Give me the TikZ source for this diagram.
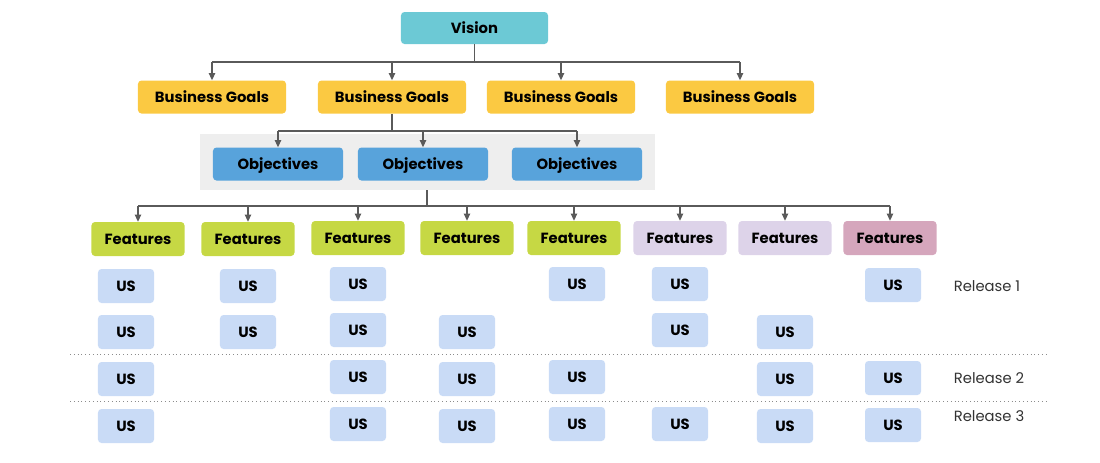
\documentclass[tikz,border=0pt]{standalone}
\usepackage{fontspec}
\setmainfont{Poppins}
\usetikzlibrary{arrows.meta}
\definecolor{visioncol}{HTML}{6CC9D5}
\definecolor{goalcol}{HTML}{FBC942}
\definecolor{objcol}{HTML}{58A3DB}
\definecolor{objbgcol}{HTML}{EEEEEE}
\definecolor{featcol}{HTML}{C6D844}
\definecolor{lavcol}{HTML}{DDD3E9}
\definecolor{pinkcol}{HTML}{D5A6BC}
\definecolor{uscol}{HTML}{C9DBF6}
\definecolor{linecol}{HTML}{5A5A5A}
\tikzset{
  box/.style={rounded corners=2.5pt, inner sep=0pt, text height=0.72em, text depth=0pt,
    font=\fontsize{10.5}{12}\selectfont\bfseries},
  visionbox/.style={box, fill=visioncol, minimum width=3.675cm, minimum height=0.8cm},
  goalbox/.style={box, fill=goalcol, minimum width=3.7cm, minimum height=0.825cm},
  objbox/.style={box, fill=objcol, minimum width=3.25cm, minimum height=0.825cm},
  featbox/.style={box, fill=featcol, minimum width=2.325cm, minimum height=0.85cm},
  usbox/.style={box, fill=uscol, minimum width=1.4cm, minimum height=0.85cm},
  link/.style={draw=linecol, line width=0.9pt},
  arr/.style={link, -{Triangle[width=4.5pt,length=5pt]}},
  release/.style={font=\fontsize{10.5}{12}\selectfont, text=black!80}
}
\begin{document}
\begin{tikzpicture}[x=0.025cm, y=-0.025cm]
\useasboundingbox (0,0) rectangle (1100,462);

% top of the tree
\node[visionbox] (vision) at (474.5,28) {Vision};
\node[goalbox] (bg1) at (212,97) {Business Goals};
\node[goalbox] (bg2) at (392,97) {Business Goals};
\node[goalbox] (bg3) at (561,97) {Business Goals};
\node[goalbox] (bg4) at (740,97) {Business Goals};

\coordinate (vj) at (474.5,62);
\draw[link] (vision.south) -- (vj);
\draw[link] (vj -| bg1.north) -- (vj -| bg4.north);
\foreach \g in {bg1,bg2,bg3,bg4}
  \draw[arr] (vj -| \g.north) -- (\g.north);

% objectives on a grey band
\node[fill=objbgcol, minimum width=11.375cm, minimum height=1.4cm, inner sep=0pt] (objbg) at (427.5,162) {};
\node[objbox] (ob1) at (278,164) {Objectives};
\node[objbox] (ob2) at (423,164) {Objectives};
\node[objbox] (ob3) at (577,164) {Objectives};

\coordinate (gj) at (392,131);
\draw[link] (bg2.south) -- (gj);
\draw[link] (gj -| ob1.north) -- (gj -| ob3.north);
\foreach \o in {ob1,ob2,ob3}
  \draw[arr] (gj -| \o.north) -- (\o.north);

% features
\node[featbox] (f1) at (138,239) {Features};
\node[featbox] (f2) at (248,239) {Features};
\node[featbox] (f3) at (358,238) {Features};
\node[featbox] (f4) at (467,238) {Features};
\node[featbox] (f5) at (574,238) {Features};
\node[featbox, fill=lavcol] (f6) at (680,238) {Features};
\node[featbox, fill=lavcol] (f7) at (785,238) {Features};
\node[featbox, fill=pinkcol] (f8) at (890,238) {Features};

\coordinate (oj) at (427,206);
\draw[link] (objbg.south -| oj) -- (oj);
\draw[link] (oj -| f1.north) -- (oj -| f8.north);
\foreach \f in {f1,f2,f3,f4,f5,f6,f7,f8}
  \draw[arr] (oj -| \f.north) -- (\f.north);

% user stories (column x / row y)
\foreach \n/\x/\y in {a1/126/286, a2/126/332, a3/126/379, a4/126/426,
                      b1/248/286, b2/248/332,
                      c1/358/284, c2/358/330, c3/358/377, c4/358/424,
                      d2/467/332, d3/467/379, d4/467/426,
                      e1/577/284, e3/577/377, e4/577/424,
                      g1/680/284, g2/680/330, g4/680/424,
                      h2/785/332, h3/785/379, h4/785/426,
                      k1/893/285, k3/893/378, k4/893/425}
  \node[usbox] (us-\n) at (\x,\y) {US};

% release separators
\coordinate (s1l) at (70,354);
\coordinate (s1r) at (1046,354);
\coordinate (s2l) at (70,401);
\coordinate (s2r) at (1046,401);
\draw[black!45, line width=0.7pt, dotted] (s1l) -- (s1r);
\draw[black!45, line width=0.7pt, dotted] (s2l) -- (s2r);

\node[release] (r1) at (987,286) {Release 1};
\node[release] (r2) at (989,378) {Release 2};
\node[release] (r3) at (989,416) {Release 3};
\end{tikzpicture}
\end{document}
